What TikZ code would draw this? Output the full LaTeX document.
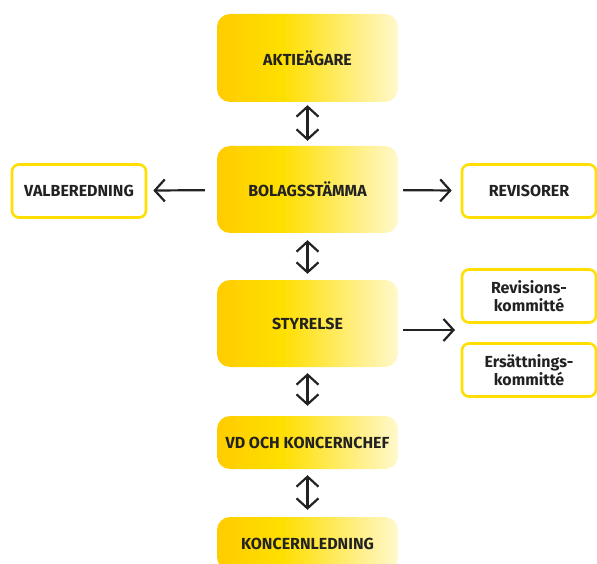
\documentclass[tikz,border=0pt]{standalone}
\usepackage{fontspec}
\setmainfont{Fira Sans}
\usepackage{tikz}
\usetikzlibrary{arrows.meta}

\definecolor{ylA}{RGB}{255,204,0}
\definecolor{ylB}{RGB}{255,223,0}
\definecolor{ylC}{RGB}{255,248,204}
\definecolor{ylLine}{RGB}{255,222,0}
\definecolor{txt}{RGB}{34,34,34}
\pgfdeclarehorizontalshading{boxshade}{100bp}{color(0bp)=(ylA); color(25bp)=(ylA); color(43bp)=(ylB); color(75bp)=(ylC); color(100bp)=(ylC)}

\begin{document}
\begin{tikzpicture}[x=1pt, y=-1pt,
  every node/.style={inner sep=0pt, text=txt, font=\fontsize{16}{18}\selectfont\bfseries, align=center},
  main/.style={shading=boxshade, rounded corners=13pt, minimum width=181pt},
  side/.style={draw=ylLine, line width=2.6pt, rounded corners=7pt, fill=white, minimum width=134pt, minimum height=53pt},
  arr/.style={line width=2.2pt, draw=txt, arrows={Straight Barb[length=10pt, width=22pt]-Straight Barb[length=10pt, width=22pt]}},
  arrto/.style={line width=2.2pt, draw=txt, -{Straight Barb[length=10pt, width=22pt]}}]
  \useasboundingbox (0,0) rectangle (597,564);
  \node (aktie) [main, minimum height=88pt] at (307.5, 58) {AKTIEÄGARE};
  \node (bolag) [main, minimum height=87pt] at (307.5, 189.5) {BOLAGSSTÄMMA};
  \node (styr) [main, minimum height=87pt] at (307.5, 323.5) {STYRELSE};
  \node (vd) [main, minimum height=53pt] at (307.5, 442.5) {VD OCH KONCERNCHEF};
  \node (kled) [main, minimum height=53pt] at (307.5, 543.5) {KONCERNLEDNING};
  \node (valb) [side] at (79, 191) {VALBEREDNING};
  \node (rev) [side] at (529, 191) {REVISORER};
  \node (revk) [side] at (529, 296) {Revisions-\\kommitté};
  \node (ersk) [side] at (529, 370) {Ersättnings-\\kommitté};
  \coordinate (komm) at (455, 330);
  \draw [arr, shorten <=3pt, shorten >=5pt] (aktie) -- (bolag);
  \draw [arr, shorten <=7pt, shorten >=6pt] (bolag) -- (styr);
  \draw [arr, shorten <=6pt, shorten >=10pt] (styr) -- (vd);
  \draw [arr, shorten <=6pt, shorten >=7pt] (vd) -- (kled);
  \draw [arrto, shorten <=12pt, shorten >=6pt] (bolag) -- (valb);
  \draw [arrto, shorten <=5pt, shorten >=9pt] (bolag) -- (rev);
  \draw [arrto, shorten <=5pt] (styr.east |- komm) -- (komm);
\end{tikzpicture}
\end{document}
